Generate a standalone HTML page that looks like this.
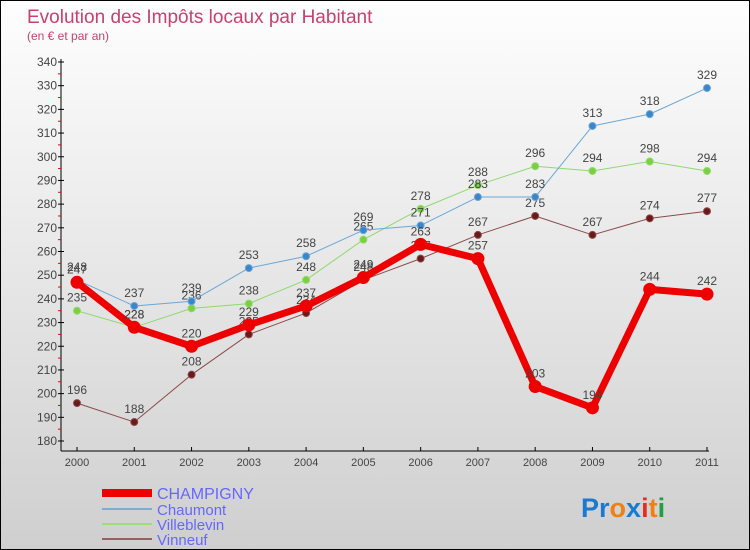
<!DOCTYPE html>
<html><head><meta charset="utf-8"><style>
body{margin:0}
#c{position:relative;width:750px;height:550px;overflow:hidden;box-sizing:border-box;border:1px solid #000;background:linear-gradient(#fefefe,#cfcfcf);font-family:"Liberation Sans","DejaVu Sans",sans-serif}
svg text{font-family:"Liberation Sans","DejaVu Sans",sans-serif}
</style></head><body>
<div id="c">
<svg id="s" width="750" height="550">
<text x="26" y="22" font-size="19" fill="#c8416e">Evolution des Impôts locaux par Habitant</text>
<text x="26" y="39" font-size="12" fill="#c8416e">(en € et par an)</text>
<g id="axes"></g><g id="series"></g>
<g>
<rect x="101" y="488" width="50" height="8" fill="#e00"/>
<text x="156" y="498" font-size="16" fill="#6666ff">CHAMPIGNY</text>
<line x1="101" y1="508" x2="151" y2="508" stroke="#7aaed8" stroke-width="2"/>
<text x="156" y="514" font-size="15" fill="#6666ff">Chaumont</text>
<line x1="101" y1="523" x2="151" y2="523" stroke="#9ede76" stroke-width="2"/>
<text x="156" y="529" font-size="15" fill="#6666ff">Villeblevin</text>
<line x1="101" y1="538" x2="151" y2="538" stroke="#956060" stroke-width="2"/>
<text x="156" y="544" font-size="15" fill="#6666ff">Vinneuf</text>
</g>
<text x="580" y="516" font-size="27" font-weight="bold"><tspan fill="#1a7ad0">Pr</tspan><tspan fill="#f08010">o</tspan><tspan fill="#1a7ad0">x</tspan><tspan fill="#e03020">i</tspan><tspan fill="#f08010">t</tspan><tspan fill="#20a040">i</tspan></text>
</svg></div>
<script>
const years=["2000","2001","2002","2003","2004","2005","2006","2007","2008","2009","2010","2011"];
const yTicks=[180,190,200,210,220,230,240,250,260,270,280,290,300,310,320,330,340];
const champigny=[247,228,220,229,237,249,263,257,203,194,244,242];
const chaumont=[248,237,239,253,258,269,271,283,283,313,318,329];
const villeblevin=[235,228,236,238,248,265,278,288,296,294,298,294];
const vinneuf=[196,188,208,225,234,248,257,267,275,267,274,277];
const NS="http://www.w3.org/2000/svg";
const x=i=>76+i*(630/11);
const y=v=>440-(v-180)*(379/160);
function mk(t,a,p){const e=document.createElementNS(NS,t);for(const k in a)e.setAttribute(k,a[k]);p.appendChild(e);return e;}
const ax=document.getElementById('axes');
let l=mk('line',{x1:60,y1:58,x2:60,y2:450,stroke:'#000'},ax);


l=mk('line',{x1:60,y1:450,x2:708,y2:450,stroke:'#000'},ax);


yTicks.forEach((v,i)=>{const yy=y(v);
mk('line',{x1:57,y1:yy,x2:63,y2:yy,stroke:'#000'},ax);
if(i<yTicks.length-1)mk('line',{x1:57,y1:y(v+5),x2:60,y2:y(v+5),stroke:'#e00'},ax);
const t=mk('text',{x:56,y:yy+4,'font-size':12,fill:'#444','text-anchor':'end'},ax);t.textContent=v;

});
years.forEach((yr,i)=>{mk('line',{x1:x(i),y1:446,x2:x(i),y2:450,stroke:'#000'},ax);
const t=mk('text',{x:x(i),y:465,'font-size':11,fill:'#444','text-anchor':'middle'},ax);t.textContent=yr;

});
const sg=document.getElementById('series');
function draw(d,name,color,w,r,dot){const g=mk('g',{},sg);


mk('polyline',{points:d.map((v,i)=>x(i)+','+y(v)).join(' '),fill:'none',stroke:color,'stroke-width':w,'stroke-linejoin':'round'},g);
d.forEach((v,i)=>{const c=mk('circle',{cx:x(i),cy:y(v),r:r,fill:dot,stroke:color,'stroke-width':1},g);


const t=mk('text',{x:x(i),y:y(v)-9,'font-size':12,fill:'#444','text-anchor':'middle'},g);t.textContent=v;

});}
draw(vinneuf,'vinneuf','#8b4a4a',1,3.5,'#6b1a1a');
draw(villeblevin,'villeblevin','#90d870',1,3.5,'#7cd040');
draw(chaumont,'chaumont','#6aa6d8',1,3.5,'#3a86c8');
draw(champigny,'champigny','#e00',7,6,'#e00');
</script>
</body></html>
